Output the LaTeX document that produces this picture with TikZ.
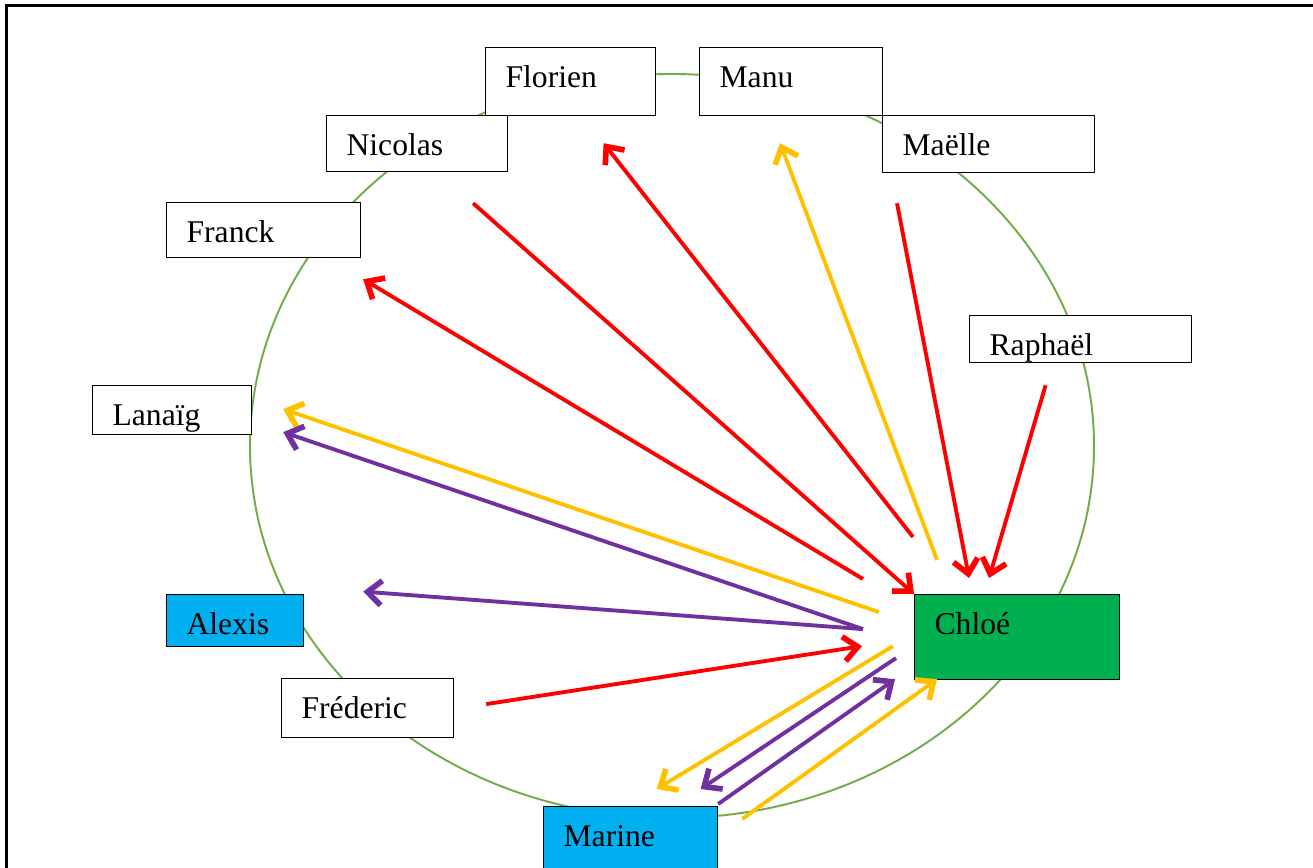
\documentclass[tikz,border=0pt]{standalone}
\usepackage{fontspec}
\setmainfont{Liberation Serif}
\usetikzlibrary{arrows.meta,calc,positioning}
\definecolor{ringgreen}{HTML}{70AD47}
\definecolor{chloegreen}{HTML}{00B050}
\definecolor{pupilblue}{HTML}{00B0F0}
\definecolor{arrred}{HTML}{FF0000}
\definecolor{arryellow}{HTML}{FFC000}
\definecolor{arrpurple}{HTML}{7030A0}
\tikzset{
      arr/.style = {-{Straight Barb[length=8pt, width=14pt, line width=3.2pt]}, line width=2.2pt},   % open arrow heads
   person/.style = {draw, fill=white, line width=0.7pt, anchor=north west,
                    inner xsep=0.4cm, inner ysep=0pt, align=left,
                    text height=0.8cm, font=\fontsize{18}{20}\selectfont},
        }

\begin{document}
\begin{tikzpicture}[x=0.02cm, y=-0.02cm]
  \useasboundingbox (0,0) rectangle (1313,868);
  \draw[line width=1.4pt] (6.5,868) |- (1313,5.5);

  % the ring
  \draw[ringgreen, line width=1.1pt] (672,446) ellipse [x radius=422, y radius=372];

  \node[person, text width=2.6cm,  text depth=0.56cm] (florien)  at (485,47)  {Florien};
  \node[person, text width=2.86cm, text depth=0.56cm] (manu)     at (699,47)  {Manu};
  \node[person, text width=2.82cm, text depth=0.32cm] (nicolas)  at (326,115) {Nicolas};
  \node[person, text width=3.44cm, text depth=0.34cm] (maelle)   at (882,115) {Maëlle};
  \node[person, text width=3.08cm, text depth=0.3cm]  (franck)   at (166,202) {Franck};
  \node[person, text width=3.64cm, text depth=0.14cm] (raphael)  at (969,315) {Raphaël};
  \node[person, text width=2.38cm, text depth=0.18cm] (lanaig)   at (92,385)  {Lanaïg};
  \node[person, text width=1.94cm, text depth=0.24cm, fill=pupilblue]  (alexis) at (166,594) {Alexis};
  \node[person, text width=3.3cm,  text depth=0.9cm,  fill=chloegreen] (chloe)  at (914,594) {Chloé};
  \node[person, text width=2.64cm, text depth=0.38cm] (frederic) at (281,678) {Fréderic};
  \node[person, text width=2.68cm, text depth=0.48cm, fill=pupilblue]  (marine) at (543,806) {Marine};

  % red
  \draw[arr, arrred] ($(nicolas.south)+(56,31)$) -- (chloe.north west);
  \draw[arr, arrred] ($(chloe.north west)+(-1,-57)$) -- ($(florien.south)+(33,27)$);
  \draw[arr, arrred] ($(chloe.north west)+(-51,-15)$) -- ($(franck.south east)+(2,21)$);
  \draw[arr, arrred] ($(maelle.south west)+(15,30)$) -- ($(chloe.north)+(-48,-16)$);
  \draw[arr, arrred] ($(raphael.south)+(-35,22)$) -- ($(chloe.north)+(-28,-16)$);
  \draw[arr, arrred] ($(frederic.east)+(32,-4)$) -- ($(chloe.west)+(-52,9)$);

  % yellow
  \draw[arr, arryellow] ($(chloe.north west)+(23,-34)$) -- ($(manu.south)+(-11,27)$);
  \draw[arr, arryellow] ($(chloe.west)+(-35,-25)$) -- ($(lanaig.east)+(31,-1)$);
  \draw[arr, arryellow] ($(chloe.west)+(-21,9)$) -- ($(marine.north)+(26,-17)$);
  \draw[arr, arryellow] ($(marine.north east)+(24,13)$) -- ($(chloe.south west)+(23,-1)$);

  % purple
  \draw[arr, arrpurple] ($(chloe.west)+(-51,-8)$) -- ($(lanaig.east)+(31,22)$);
  \draw[arr, arrpurple] ($(chloe.west)+(-51,-8)$) -- ($(alexis.east)+(59,-29)$);
  \draw[arr, arrpurple] ($(chloe.west)+(-18,21)$) -- ($(marine.north)+(70,-17)$);
  \draw[arr, arrpurple] ($(marine.north east)+(0,-2)$) -- ($(chloe.south west)+(-19,-1)$);
\end{tikzpicture}
\end{document}
